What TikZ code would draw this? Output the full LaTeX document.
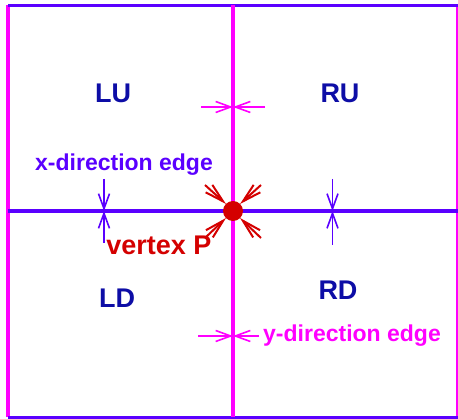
\documentclass[tikz,border=0pt]{standalone}
\usepackage{fontspec}
\setmainfont{Liberation Sans}
\usetikzlibrary{positioning,arrows.meta}
\definecolor{edgeBlue}{HTML}{5A00FF}
\definecolor{edgePink}{HTML}{FF00FF}
\definecolor{regionNavy}{HTML}{0D0DA6}
\definecolor{vertexRed}{HTML}{D40000}

\begin{document}
\begin{tikzpicture}[x=1pt, y=-1pt,
        xLine/.style={draw=edgeBlue, line width=3.5pt},
        yLine/.style={draw=edgePink, line width=3.5pt},
        regionLabel/.style={text=regionNavy, font=\fontsize{27}{31}\selectfont\bfseries, inner sep=0pt},
        edgeLabel/.style={font=\fontsize{23}{27}\selectfont\bfseries, inner sep=0pt},
        pinArrow/.style={-{Straight Barb[length=15pt, width=11pt]}, line width=1.6pt},
        vertexArrow/.style={-{Straight Barb[length=19pt, width=10pt]}, line width=2pt, draw=vertexRed}
    ]
        \useasboundingbox (0,0) rectangle (458,419);

        % Outer frame
        \coordinate (nw) at (8,5.5);
        \coordinate (ne) at (457.5,5.5);
        \coordinate (sw) at (8,417.5);
        \coordinate (se) at (457.5,417.5);
        \draw[yLine] (nw) -- (sw);
        \draw[yLine] (ne) -- (se);
        \draw[xLine] (nw) -- (ne);
        \draw[xLine] (sw) -- (se);

        % Middle cross
        \coordinate (P) at (233,211);
        \coordinate (midTop) at (233,5.5);
        \coordinate (midBottom) at (233,417.5);
        \coordinate (midLeft) at (8,211);
        \coordinate (midRight) at (457.5,211);
        \draw[yLine, line width=4pt] (midTop) -- (midBottom);
        \draw[xLine, line width=4pt] (midLeft) -- (midRight);

        % Region names
        \node[regionLabel] (lu) at (113,93) {LU};
        \node[regionLabel] (ru) at (340,93) {RU};
        \node[regionLabel] (ld) at (117,298) {LD};
        \node[regionLabel] (rd) at (338,290) {RD};

        % y-direction edges (arrows onto the vertical line)
        \coordinate (upEdge) at (233,107);
        \coordinate[left=32pt of upEdge] (upEdgeL);
        \coordinate[right=32pt of upEdge] (upEdgeR);
        \draw[pinArrow, edgePink] (upEdgeL) -- (upEdge);
        \draw[pinArrow, edgePink] (upEdgeR) -- (upEdge);

        \coordinate (downEdge) at (233,336);
        \coordinate[left=35pt of downEdge] (downEdgeL);
        \coordinate[right=26pt of downEdge] (downEdgeR);
        \draw[pinArrow, edgePink] (downEdgeL) -- (downEdge);
        \draw[pinArrow, edgePink] (downEdgeR) -- (downEdge);

        % x-direction edges (arrows onto the horizontal line)
        \coordinate (leftEdge) at (104,211);
        \coordinate[above=32pt of leftEdge] (leftEdgeU);
        \coordinate[below=32pt of leftEdge] (leftEdgeD);
        \draw[pinArrow, edgeBlue] (leftEdgeU) -- (leftEdge);
        \draw[pinArrow, edgeBlue] (leftEdgeD) -- (leftEdge);

        \coordinate (rightEdge) at (332.5,211);
        \coordinate[above=32pt of rightEdge] (rightEdgeU);
        \coordinate[below=34pt of rightEdge] (rightEdgeD);
        \draw[pinArrow, edgeBlue] (rightEdgeU) -- (rightEdge);
        \draw[pinArrow, edgeBlue] (rightEdgeD) -- (rightEdge);

        % Vertex P with its four diagonal arrows
        \coordinate (pUL) at (205,185);
        \coordinate (pUR) at (261,185);
        \coordinate (pDL) at (205,238);
        \coordinate (pDR) at (261,238);
        \coordinate (tUL) at (226,204);
        \coordinate (tUR) at (240,204);
        \coordinate (tDL) at (226,218);
        \coordinate (tDR) at (240,218);
        \draw[vertexArrow] (pUL) -- (tUL);
        \draw[vertexArrow] (pUR) -- (tUR);
        \draw[vertexArrow] (pDL) -- (tDL);
        \draw[vertexArrow] (pDR) -- (tDR);
        \fill[vertexRed] (P) circle (10pt);

        % Labels
        \node[edgeLabel, text=edgeBlue] (xLabel) at (124,165) {x-direction edge};
        \node[edgeLabel, text=vertexRed, font=\fontsize{27}{31}\selectfont\bfseries] (pLabel) at (159,245) {vertex P};
        \node[edgeLabel, text=edgePink] (yLabel) at (352,336) {y-direction edge};
    \end{tikzpicture}
\end{document}
